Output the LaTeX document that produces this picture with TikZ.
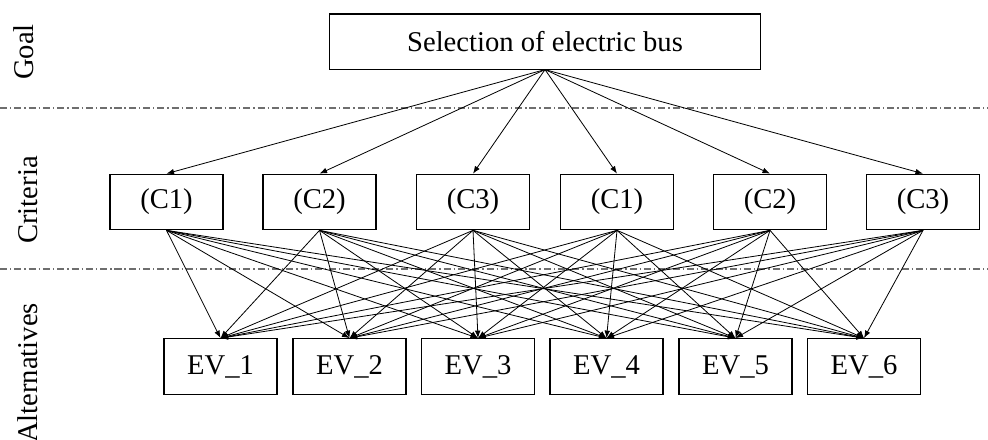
\documentclass[tikz,border=0pt]{standalone}
\usepackage{fontspec}
\setmainfont{Liberation Serif}
\usetikzlibrary{arrows.meta}
\definecolor{sepgray}{RGB}{110,110,110}
\begin{document}
\begin{tikzpicture}[x=0.37037pt,y=-0.37037pt,
  font=\fontsize{10.6}{12.7}\selectfont,
  box/.style={draw,line width=0.4pt,minimum width=41.85pt,minimum height=20.6pt,inner sep=0pt},
  goalbox/.style={draw,line width=0.4pt,minimum width=159.3pt,minimum height=20.4pt,inner sep=0pt},
  arr/.style={line width=0.3pt,-{Latex[length=2.8pt,width=2.1pt]}},
  sep/.style={draw=sepgray,line width=0.4pt,dash pattern=on 2.6pt off 1.1pt on 0.5pt off 1.1pt},
  lab/.style={rotate=90,anchor=base,inner sep=0pt}]
\useasboundingbox (0,0) rectangle (988,439);
% separators
\draw[sep] (0,108) -- (988,108);
\draw[sep] (0,269) -- (988,269);
% side labels
\node[lab] (lgoal) at (33,52) {Goal};
\node[lab] (lcrit) at (37,200) {Criteria};
\node[lab] (lalt) at (37,373) {Alternatives};
% goal
\node[goalbox] (g) at (545,41.5) {Selection of electric bus};
% criteria
\node[box] (c1) at (166.5,202) {(C1)};
\node[box] (c2) at (319.5,202) {(C2)};
\node[box] (c3) at (473,202) {(C3)};
\node[box] (c4) at (617,202) {(C1)};
\node[box] (c5) at (770,202) {(C2)};
\node[box] (c6) at (923,202) {(C3)};
% alternatives
\node[box] (e1) at (220.5,366.5) {EV\_1};
\node[box] (e2) at (349.5,366.5) {EV\_2};
\node[box] (e3) at (478,366.5) {EV\_3};
\node[box] (e4) at (606.5,366.5) {EV\_4};
\node[box] (e5) at (735.5,366.5) {EV\_5};
\node[box] (e6) at (864,366.5) {EV\_6};
% connectors
\foreach \i in {1,...,6} \draw[arr] (g.south) -- (c\i.north);
\foreach \i in {1,...,6} \foreach \j in {1,...,6} \draw[arr] (c\i.south) -- (e\j.north);
\end{tikzpicture}
\end{document}
